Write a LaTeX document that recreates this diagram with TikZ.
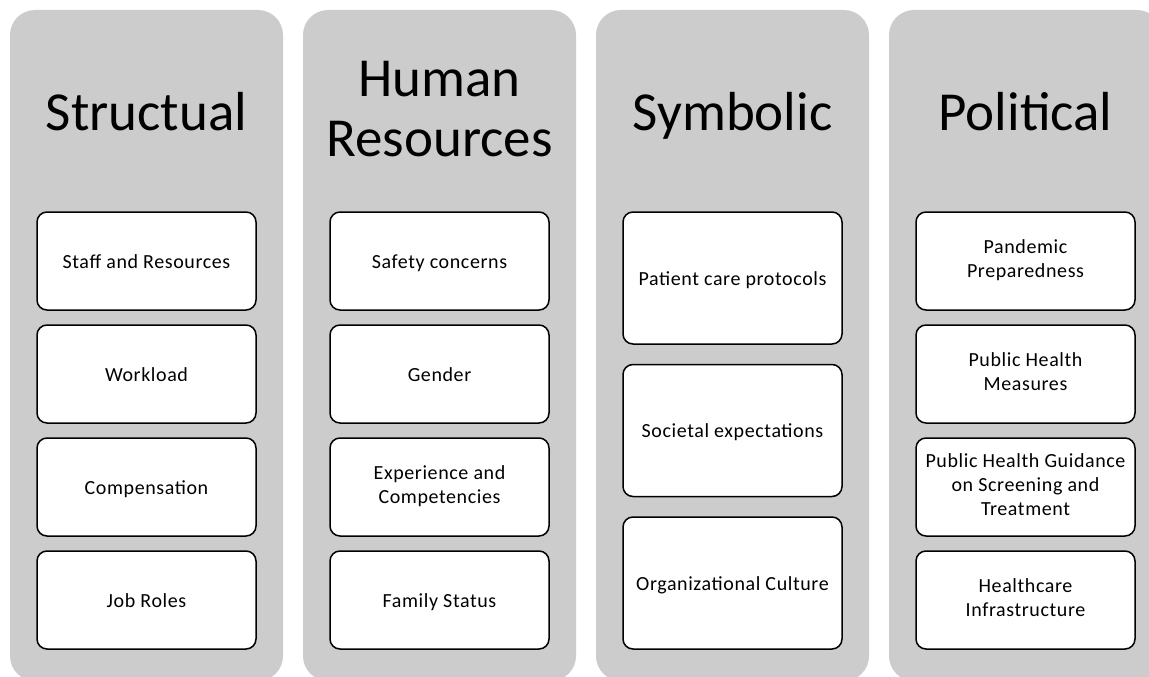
\documentclass[tikz,border=0pt]{standalone}
\usepackage{fontspec}
\setmainfont{Carlito}
\newfontfamily\itemfont[LetterSpace=3]{Carlito}
\usetikzlibrary{positioning}

\begin{document}
\begin{tikzpicture}[x=1pt,y=-1pt,
    column/.style={fill=gray!40, rounded corners=25pt, inner sep=0pt,
        minimum width=273pt, minimum height=671pt},
    title/.style={align=center, font=\fontsize{55}{60}\selectfont,
        execute at begin node=\strut, execute at end node=\strut},
    item/.style={draw, fill=white, line width=1.5pt, rounded corners=10pt,
        inner sep=0pt, minimum width=219pt, minimum height=98pt,
        align=center, font=\itemfont\fontsize{20}{24}\selectfont,
        execute at begin node={\rule{0pt}{19pt}},
        execute at end node={\rule[-4.5pt]{0pt}{4.5pt}}},
    tallitem/.style={item, minimum height=132pt}]
    \useasboundingbox (0,0) rectangle (1149,677);

    % columns
    \node[column] (structural) at (146.5,345.5) {};
    \node[column] (human)      at (439.5,345.5) {};
    \node[column] (symbolic)   at (732.5,345.5) {};
    \node[column] (political)  at (1025.5,345.5) {};

    % titles
    \node[title] (t1) at (146.5,118) {Structual};
    \node[title] (t2) at (439.5,118) {Human\\Resources};
    \node[title] (t3) at (732.5,118) {Symbolic};
    \node[title] (t4) at (1025.5,118) {Political};

    % structural frame
    \node[item] (s1) at (146.5,261) {Staff and Resources};
    \node[item, below=13.5pt of s1] (s2) {Workload};
    \node[item, below=13.5pt of s2] (s3) {Compensation};
    \node[item, below=13.5pt of s3] (s4) {Job Roles};

    % human resources frame
    \node[item] (h1) at (439.5,261) {Safety concerns};
    \node[item, below=13.5pt of h1] (h2) {Gender};
    \node[item, below=13.5pt of h2] (h3) {Experience and\\Competencies};
    \node[item, below=13.5pt of h3] (h4) {Family Status};

    % symbolic frame
    \node[tallitem] (y1) at (732.5,278) {Patient care protocols};
    \node[tallitem, below=19pt of y1] (y2) {Societal expectations};
    \node[tallitem, below=19pt of y2] (y3) {Organizational Culture};

    % political frame
    \node[item] (p1) at (1025.5,261) {Pandemic\\Preparedness};
    \node[item, below=13.5pt of p1] (p2) {Public Health\\Measures};
    \node[item, below=13.5pt of p2] (p3) {Public Health Guidance\\on Screening and\\Treatment};
    \node[item, below=13.5pt of p3] (p4) {Healthcare\\Infrastructure};
\end{tikzpicture}
\end{document}
